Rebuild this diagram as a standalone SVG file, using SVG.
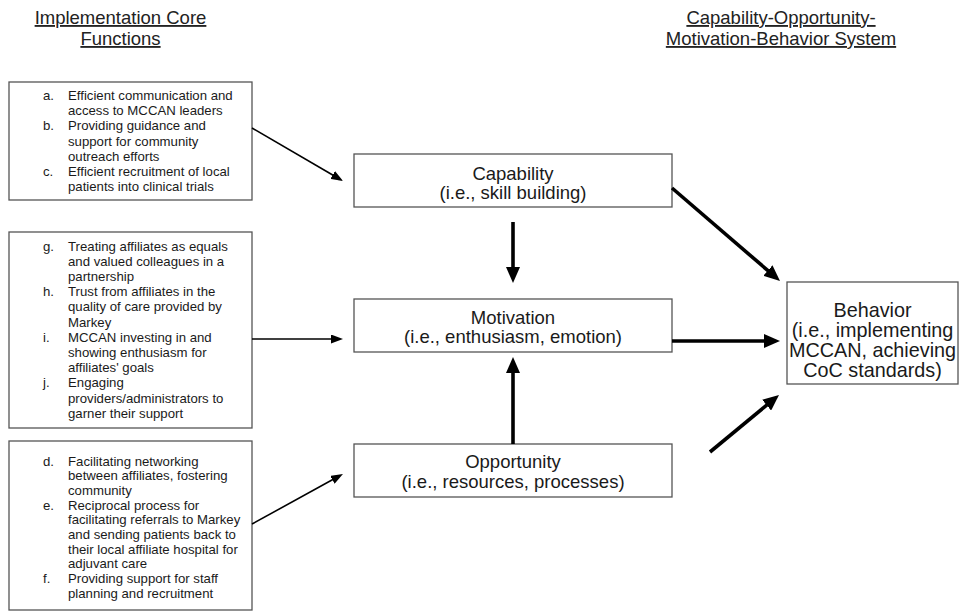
<svg xmlns="http://www.w3.org/2000/svg" width="962" height="612" viewBox="0 0 962 612">
<defs>
<style>
.bg{fill:#ffffff}
.box{fill:#ffffff;stroke:#555555;stroke-width:1.3}
.title{font-family:"Liberation Sans",Arial,sans-serif;font-size:18.5px;fill:#222222;text-anchor:middle;text-decoration:underline}
.list{font-family:"Liberation Sans",Arial,sans-serif;font-size:13.2px;fill:#1a1a1a}
.ctr{font-family:"Liberation Sans",Arial,sans-serif;font-size:18.5px;fill:#1a1a1a;text-anchor:middle}
.beh{font-family:"Liberation Sans",Arial,sans-serif;font-size:19.8px;fill:#1a1a1a;text-anchor:middle}
.thin{stroke:#000000;stroke-width:1.6;fill:none;marker-end:url(#hThin)}
.thick{stroke:#000000;stroke-width:3.6;fill:none;marker-end:url(#hThick)}
</style>
<marker id="hThin" markerUnits="userSpaceOnUse" markerWidth="12" markerHeight="9" refX="2" refY="4.5" orient="auto">
<path d="M0,0 L12,4.5 L0,9 z" fill="#000000"/>
</marker>
<marker id="hThick" markerUnits="userSpaceOnUse" markerWidth="16" markerHeight="14" refX="2" refY="7" orient="auto">
<path d="M0,0 L16,7 L0,14 z" fill="#000000"/>
</marker>
</defs>
<rect class="bg" x="0" y="0" width="962" height="612"/>

<g id="titles">
<text class="title" x="120.5" y="24">Implementation Core</text>
<text class="title" x="120.5" y="45">Functions</text>
<text class="title" x="781" y="24">Capability-Opportunity-</text>
<text class="title" x="781" y="45">Motivation-Behavior System</text>
</g>

<g id="functions-abc">
<rect class="box" x="9" y="82" width="243" height="118"/>
<text class="list">
<tspan x="43" y="100">a.</tspan><tspan x="68" y="100">Efficient communication and</tspan>
<tspan x="68" y="115.2">access to MCCAN leaders</tspan>
<tspan x="43" y="130.4">b.</tspan><tspan x="68" y="130.4">Providing guidance and</tspan>
<tspan x="68" y="145.6">support for community</tspan>
<tspan x="68" y="160.8">outreach efforts</tspan>
<tspan x="43" y="176">c.</tspan><tspan x="68" y="176">Efficient recruitment of local</tspan>
<tspan x="68" y="191.2">patients into clinical trials</tspan>
</text>
</g>

<g id="functions-ghij">
<rect class="box" x="9" y="232" width="243" height="196"/>
<text class="list">
<tspan x="43" y="250.5">g.</tspan><tspan x="68" y="250.5">Treating affiliates as equals</tspan>
<tspan x="68" y="265.7">and valued colleagues in a</tspan>
<tspan x="68" y="280.9">partnership</tspan>
<tspan x="43" y="296.1">h.</tspan><tspan x="68" y="296.1">Trust from affiliates in the</tspan>
<tspan x="68" y="311.3">quality of care provided by</tspan>
<tspan x="68" y="326.5">Markey</tspan>
<tspan x="43" y="341.7">i.</tspan><tspan x="68" y="341.7">MCCAN investing in and</tspan>
<tspan x="68" y="356.9">showing enthusiasm for</tspan>
<tspan x="68" y="372.1">affiliates' goals</tspan>
<tspan x="43" y="387.3">j.</tspan><tspan x="68" y="387.3">Engaging</tspan>
<tspan x="68" y="402.5">providers/administrators to</tspan>
<tspan x="68" y="417.7">garner their support</tspan>
</text>
</g>

<g id="functions-def">
<rect class="box" x="9" y="441" width="243" height="169"/>
<text class="list">
<tspan x="43" y="465.5">d.</tspan><tspan x="68" y="465.5">Facilitating networking</tspan>
<tspan x="68" y="480.2">between affiliates, fostering</tspan>
<tspan x="68" y="494.9">community</tspan>
<tspan x="43" y="509.6">e.</tspan><tspan x="68" y="509.6">Reciprocal process for</tspan>
<tspan x="68" y="524.3">facilitating referrals to Markey</tspan>
<tspan x="68" y="539">and sending patients back to</tspan>
<tspan x="68" y="553.7">their local affiliate hospital for</tspan>
<tspan x="68" y="568.4">adjuvant care</tspan>
<tspan x="43" y="583.1">f.</tspan><tspan x="68" y="583.1">Providing support for staff</tspan>
<tspan x="68" y="597.8">planning and recruitment</tspan>
</text>
</g>

<g id="capability">
<rect class="box" x="354" y="154" width="318" height="53"/>
<text class="ctr" x="513" y="179.5">Capability</text>
<text class="ctr" x="513" y="199">(i.e., skill building)</text>
</g>

<g id="motivation">
<rect class="box" x="354" y="299" width="318" height="53"/>
<text class="ctr" x="513" y="323.5">Motivation</text>
<text class="ctr" x="513" y="343">(i.e., enthusiasm, emotion)</text>
</g>

<g id="opportunity">
<rect class="box" x="354" y="444" width="318" height="53"/>
<text class="ctr" x="513" y="468">Opportunity</text>
<text class="ctr" x="513" y="487.5">(i.e., resources, processes)</text>
</g>

<g id="behavior">
<rect class="box" x="787" y="282" width="171" height="102"/>
<text class="beh" x="872.5" y="317">Behavior</text>
<text class="beh" x="872.5" y="337">(i.e., implementing</text>
<text class="beh" x="872.5" y="357">MCCAN, achieving</text>
<text class="beh" x="872.5" y="377">CoC standards)</text>
</g>

<g id="connectors">
<line class="thin" x1="252" y1="128" x2="334.4" y2="176"/>
<line class="thin" x1="252" y1="339" x2="333" y2="339"/>
<line class="thin" x1="252" y1="524" x2="334.2" y2="478.8"/>
<line class="thick" x1="513" y1="222" x2="513" y2="269"/>
<line class="thick" x1="513" y1="444" x2="513" y2="371"/>
<line class="thick" x1="672" y1="188" x2="769.4" y2="271.9"/>
<line class="thick" x1="672" y1="341" x2="766" y2="341"/>
<line class="thick" x1="710" y1="452" x2="768.2" y2="403.9"/>
</g>
</svg>
